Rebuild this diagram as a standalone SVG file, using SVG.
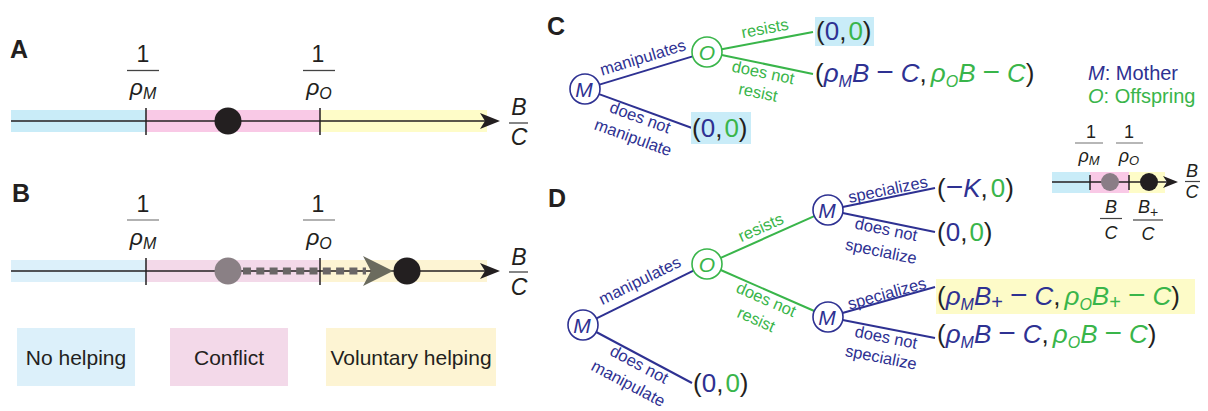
<svg xmlns="http://www.w3.org/2000/svg" width="1208" height="411" viewBox="0 0 1208 411">
<style>
text{font-family:"Liberation Sans",Arial,sans-serif;fill:#231f20}
.lbl{font-weight:bold;font-size:25px}
.it{font-style:italic}
.ax{stroke:#231f20;stroke-width:1.5;fill:none}
.blue{fill:#2e3192}
.green{fill:#39b54a}
.bl{stroke:#2e3192;stroke-width:2;fill:none}
.gl{stroke:#39b54a;stroke-width:2;fill:none}
.br{font-size:16.5px;text-anchor:middle}
.pay{font-size:26px}
.mn{font-size:30px;font-style:normal}
.nodeM{fill:#fff;stroke:#2e3192;stroke-width:1.6}
.nodeO{fill:#fff;stroke:#39b54a;stroke-width:1.6}
.nl{font-size:21px;font-style:italic;text-anchor:middle}
.frac{font-size:23px;text-anchor:middle}
.leg{font-size:21px;text-anchor:middle}
</style>
<defs>
<path id="ah" d="M0,0 L-20,-8 L-15,0 L-20,8 Z" fill="#231f20"/>
</defs>

<!-- Panel A -->
<g id="panelA">
<text class="lbl" x="10" y="58">A</text>
<rect x="11" y="110" width="135" height="22" fill="#c9ecf8"/>
<rect x="146" y="110" width="174" height="22" fill="#f9c9e6"/>
<rect x="320" y="110" width="167" height="22" fill="#fefcc8"/>
<line class="ax" x1="11" y1="121" x2="490" y2="121"/>
<use href="#ah" x="500" y="121"/>
<line class="ax" x1="146" y1="108" x2="146" y2="135"/>
<line class="ax" x1="320" y1="108" x2="320" y2="135"/>
<circle cx="228" cy="121" r="13.5" fill="#231f20"/>
<text class="frac" x="143" y="62">1</text>
<line x1="127" y1="70.5" x2="159" y2="70.5" stroke="#444" stroke-width="1.3"/>
<text class="frac it" x="143" y="95">ρ<tspan font-size="16" dy="4">M</tspan></text>
<text class="frac" x="318" y="62">1</text>
<line x1="303" y1="70.5" x2="335" y2="70.5" stroke="#444" stroke-width="1.3"/>
<text class="frac it" x="319" y="95">ρ<tspan font-size="16" dy="4">O</tspan></text>
<text class="frac it" x="519" y="115">B</text>
<line x1="509" y1="123" x2="528" y2="123" stroke="#444" stroke-width="1.3"/>
<text class="frac it" x="519" y="145">C</text>
</g>

<!-- Panel B -->
<g id="panelB">
<text class="lbl" x="12" y="202">B</text>
<rect x="11" y="260" width="135" height="22" fill="#dcf0fa"/>
<rect x="146" y="260" width="174" height="22" fill="#f3d9e9"/>
<rect x="320" y="260" width="167" height="22" fill="#fdf4d3"/>
<line class="ax" x1="11" y1="271" x2="490" y2="271"/>
<use href="#ah" x="500" y="271"/>
<line class="ax" x1="146" y1="258" x2="146" y2="285"/>
<line class="ax" x1="320" y1="258" x2="320" y2="285"/>
<circle cx="228" cy="271" r="13.5" fill="#8a8085"/>
<line x1="243" y1="271" x2="366" y2="271" stroke="#6a6666" stroke-width="7" stroke-dasharray="8 5.3"/>
<path d="M393,271 L363,256 L371,271 L363,286 Z" fill="#6b6b5e"/>
<circle cx="407" cy="271" r="13.5" fill="#231f20"/>
<text class="frac" x="143" y="212">1</text>
<line x1="127" y1="220" x2="159" y2="220" stroke="#888" stroke-width="1.3"/>
<text class="frac it" x="143" y="245">ρ<tspan font-size="16" dy="4">M</tspan></text>
<text class="frac" x="318" y="212">1</text>
<line x1="303" y1="220" x2="335" y2="220" stroke="#888" stroke-width="1.3"/>
<text class="frac it" x="319" y="245">ρ<tspan font-size="16" dy="4">O</tspan></text>
<text class="frac it" x="519" y="265">B</text>
<line x1="509" y1="272" x2="528" y2="272" stroke="#444" stroke-width="1.3"/>
<text class="frac it" x="519" y="295">C</text>
</g>

<!-- Legend -->
<g id="legend-no-helping">
<rect x="17" y="328" width="118" height="58" fill="#dcf0fa"/>
<text class="leg" x="76" y="365">No helping</text>
</g>
<g id="legend-conflict">
<rect x="170" y="328" width="118" height="58" fill="#f3d9e9"/>
<text class="leg" x="229" y="365">Conflict</text>
</g>
<g id="legend-voluntary">
<rect x="326" y="328" width="170" height="58" fill="#fdf4d3"/>
<text class="leg" x="411" y="365">Voluntary helping</text>
</g>

<!-- Panel labels C, D -->
<text class="lbl" x="547" y="35">C</text>
<text class="lbl" x="548" y="207">D</text>

<!-- Connectors -->
<g id="connectors">
<line class="bl" x1="599.4" y1="84.6" x2="692.6" y2="56.4"/>
<line class="gl" x1="721.7" y1="49.2" x2="813" y2="32"/>
<line class="gl" x1="721.7" y1="55" x2="813" y2="74"/>
<line class="bl" x1="599.1" y1="94.1" x2="692" y2="128"/>
<line class="bl" x1="596.5" y1="318.4" x2="693.5" y2="270.6"/>
<line class="gl" x1="720.7" y1="257.9" x2="814.3" y2="216.1"/>
<line class="gl" x1="720.7" y1="270" x2="814.3" y2="311"/>
<line class="bl" x1="842.7" y1="207" x2="935" y2="188"/>
<line class="bl" x1="842.7" y1="213" x2="935" y2="232"/>
<line class="bl" x1="842.4" y1="313" x2="935" y2="287"/>
<line class="bl" x1="842.7" y1="319.9" x2="935" y2="338"/>
<line class="bl" x1="596.2" y1="332" x2="692" y2="383"/>
</g>

<!-- Branch labels -->
<g id="branch-labels">
<text class="br blue" transform="translate(643,58) rotate(-17)" y="5">manipulates</text>
<text class="br green" transform="translate(765,29) rotate(-10.7)" y="5">resists</text>
<text class="br green" transform="translate(763,73) rotate(11.7)" y="5">does not</text>
<text class="br green" transform="translate(758,93) rotate(11.7)" y="5">resist</text>
<text class="br blue" transform="translate(640,118) rotate(20)" y="5">does not</text>
<text class="br blue" transform="translate(633,138) rotate(20)" y="5">manipulate</text>

<text class="br blue" transform="translate(640,281) rotate(-26.2)" y="5">manipulates</text>
<text class="br green" transform="translate(761,228) rotate(-24)" y="5">resists</text>
<text class="br green" transform="translate(766,300) rotate(23.7)" y="5">does not</text>
<text class="br green" transform="translate(756,320) rotate(23.7)" y="5">resist</text>
<text class="br blue" transform="translate(639,365) rotate(28)" y="5">does not</text>
<text class="br blue" transform="translate(628,384) rotate(28)" y="5">manipulate</text>
<text class="br blue" transform="translate(888,190) rotate(-11.6)" y="5">specializes</text>
<text class="br blue" transform="translate(886,230) rotate(11.6)" y="5">does not</text>
<text class="br blue" transform="translate(881,252) rotate(11.6)" y="5">specialize</text>
<text class="br blue" transform="translate(887,294) rotate(-15.7)" y="5">specializes</text>
<text class="br blue" transform="translate(886,338) rotate(11)" y="5">does not</text>
<text class="br blue" transform="translate(881,358) rotate(11)" y="5">specialize</text>
</g>

<!-- Nodes C -->
<g id="C-M"><circle class="nodeM" cx="585" cy="89" r="15"/><text class="nl blue" x="584" y="96.5">M</text></g>
<g id="C-O"><circle class="nodeO" cx="707" cy="52" r="15"/><text class="nl green" x="707" y="59.5">O</text></g>
<!-- Nodes D -->
<g id="D-M-root"><circle class="nodeM" cx="583" cy="325" r="15"/><text class="nl blue" x="582" y="332.5">M</text></g>
<g id="D-O"><circle class="nodeO" cx="707" cy="264" r="15"/><text class="nl green" x="707" y="271.5">O</text></g>
<g id="D-M-upper"><circle class="nodeM" cx="828" cy="210" r="15"/><text class="nl blue" x="827" y="217.5">M</text></g>
<g id="D-M-lower"><circle class="nodeM" cx="828" cy="317" r="15"/><text class="nl blue" x="827" y="324.5">M</text></g>

<!-- Payoffs C -->
<g id="C-pay-resist">
<rect x="815" y="17" width="59" height="29" fill="#c9ecf8"/>
<text class="pay" x="816" y="40">(<tspan class="blue">0</tspan>,<tspan class="green" dx="2">0</tspan>)</text>
</g>
<g id="C-pay-noresist">
<text class="pay" x="815" y="82">(<tspan class="blue it">ρ</tspan><tspan class="blue it" font-size="16" dy="5">M</tspan><tspan class="blue it" dy="-5">B</tspan><tspan class="blue mn" dx="7">−</tspan><tspan class="blue it" dx="7">C</tspan>,<tspan class="green it" dx="4">ρ</tspan><tspan class="green it" font-size="16" dy="5">O</tspan><tspan class="green it" dy="-5">B</tspan><tspan class="green mn" dx="7">−</tspan><tspan class="green it" dx="7">C</tspan>)</text>
</g>
<g id="C-pay-nomanip">
<rect x="691" y="112" width="60" height="32" fill="#c9ecf8"/>
<text class="pay" x="692" y="137">(<tspan class="blue">0</tspan>,<tspan class="green" dx="2">0</tspan>)</text>
</g>

<!-- Legend M/O -->
<g id="legend-MO">
<text x="1088" y="80" font-size="20" class="blue"><tspan class="it">M</tspan>: Mother</text>
<text x="1088" y="103" font-size="20" class="green"><tspan class="it">O</tspan>: Offspring</text>
</g>

<!-- Inset axis -->
<g id="inset">
<rect x="1052" y="172" width="38" height="21" fill="#c9ecf8"/>
<rect x="1090" y="172" width="39" height="21" fill="#f9c9e6"/>
<rect x="1129" y="172" width="36" height="21" fill="#fefcc8"/>
<line class="ax" x1="1052" y1="182" x2="1170" y2="182"/>
<path d="M1178,182 L1163,176 L1167,182 L1163,188 Z" fill="#231f20"/>
<line class="ax" x1="1090" y1="175" x2="1090" y2="190"/>
<line class="ax" x1="1129" y1="175" x2="1129" y2="190"/>
<circle cx="1110" cy="182" r="9" fill="#8a7d86"/>
<circle cx="1149" cy="182" r="9" fill="#231f20"/>
<text x="1091" y="138" font-size="18" text-anchor="middle">1</text>
<line x1="1075" y1="143" x2="1103" y2="143" stroke="#888" stroke-width="1.2"/>
<text x="1089" y="162" font-size="18" text-anchor="middle" class="it">ρ<tspan font-size="13" dy="3">M</tspan></text>
<text x="1129" y="138" font-size="18" text-anchor="middle">1</text>
<line x1="1116" y1="143" x2="1143" y2="143" stroke="#888" stroke-width="1.2"/>
<text x="1129" y="162" font-size="18" text-anchor="middle" class="it">ρ<tspan font-size="13" dy="3">O</tspan></text>
<text x="1192" y="177" font-size="18" text-anchor="middle" class="it">B</text>
<line x1="1185" y1="181.5" x2="1200" y2="181.5" stroke="#444" stroke-width="1.2"/>
<text x="1192" y="198" font-size="18" text-anchor="middle" class="it">C</text>
<text x="1111" y="213" font-size="18" text-anchor="middle" class="it">B</text>
<line x1="1100" y1="218.5" x2="1122" y2="218.5" stroke="#444" stroke-width="1.2"/>
<text x="1111" y="239" font-size="18" text-anchor="middle" class="it">C</text>
<text x="1148" y="213" font-size="18" text-anchor="middle" class="it">B<tspan font-size="14" dy="4" font-style="normal">+</tspan></text>
<line x1="1133" y1="220" x2="1163" y2="220" stroke="#444" stroke-width="1.2"/>
<text x="1148" y="240" font-size="18" text-anchor="middle" class="it">C</text>
</g>

<!-- Payoffs D -->
<g id="D-pay-spec-resist">
<text class="pay" x="937" y="197">(<tspan class="blue mn">−</tspan><tspan class="blue it">K</tspan>,<tspan class="green" dx="3">0</tspan>)</text>
</g>
<g id="D-pay-nospec-resist">
<text class="pay" x="937" y="241">(<tspan class="blue">0</tspan>,<tspan class="green" dx="2">0</tspan>)</text>
</g>
<g id="D-pay-spec-noresist">
<rect x="936" y="279" width="259" height="35" fill="#fdfbc8"/>
<text class="pay" x="937" y="305">(<tspan class="blue it">ρ</tspan><tspan class="blue it" font-size="16" dy="5">M</tspan><tspan class="blue it" dy="-5">B</tspan><tspan class="blue" font-size="20" dy="4">+</tspan><tspan class="blue mn" dy="-4" dx="7">−</tspan><tspan class="blue it" dx="7">C</tspan>,<tspan class="green it" dx="4">ρ</tspan><tspan class="green it" font-size="16" dy="5">O</tspan><tspan class="green it" dy="-5">B</tspan><tspan class="green" font-size="20" dy="4">+</tspan><tspan class="green mn" dy="-4" dx="7">−</tspan><tspan class="green it" dx="7">C</tspan>)</text>
</g>
<g id="D-pay-nospec-noresist">
<text class="pay" x="937" y="343">(<tspan class="blue it">ρ</tspan><tspan class="blue it" font-size="16" dy="5">M</tspan><tspan class="blue it" dy="-5">B</tspan><tspan class="blue mn" dx="7">−</tspan><tspan class="blue it" dx="7">C</tspan>,<tspan class="green it" dx="4">ρ</tspan><tspan class="green it" font-size="16" dy="5">O</tspan><tspan class="green it" dy="-5">B</tspan><tspan class="green mn" dx="7">−</tspan><tspan class="green it" dx="7">C</tspan>)</text>
</g>
<g id="D-pay-nomanip">
<text class="pay" x="693" y="392">(<tspan class="blue">0</tspan>,<tspan class="green" dx="2">0</tspan>)</text>
</g>
</svg>
